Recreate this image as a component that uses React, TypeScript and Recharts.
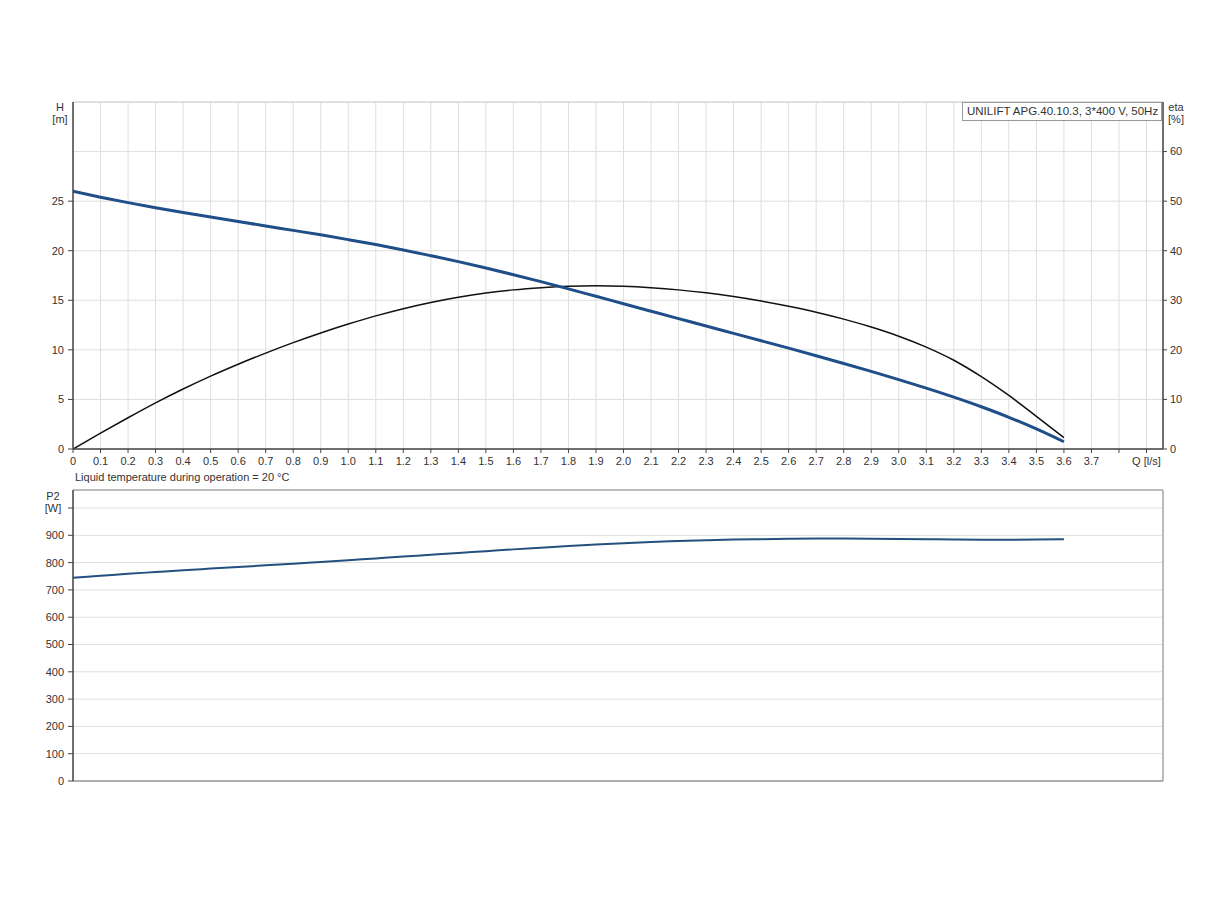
import React from "react";
import { LineChart, Line, XAxis, YAxis, CartesianGrid, ReferenceLine } from "recharts";

// flow Q [l/s] for every curve point
const flow = [
  0, 0.1, 0.2, 0.3, 0.4, 0.5, 0.6, 0.7, 0.8, 0.9, 1.0, 1.1, 1.2, 1.3, 1.4, 1.5, 1.6, 1.7, 1.8,
  1.9, 2.0, 2.1, 2.2, 2.3, 2.4, 2.5, 2.6, 2.7, 2.8, 2.9, 3.0, 3.1, 3.2, 3.3, 3.4, 3.5, 3.6,
];

// head H [m]
const head = [
  26.0, 25.4, 24.85, 24.33, 23.85, 23.4, 22.95, 22.5, 22.05, 21.6, 21.12, 20.62, 20.08, 19.5,
  18.9, 18.25, 17.58, 16.88, 16.15, 15.4, 14.65, 13.9, 13.15, 12.4, 11.66, 10.92, 10.17, 9.41,
  8.63, 7.83, 7.0, 6.14, 5.23, 4.26, 3.2, 2.02, 0.73,
];

// efficiency eta [%]
const efficiency = [
  0, 3.2, 6.3, 9.3, 12.1, 14.7, 17.1, 19.35, 21.45, 23.4, 25.2, 26.85, 28.3, 29.55, 30.6, 31.45,
  32.1, 32.55, 32.85, 32.95, 32.85, 32.55, 32.1, 31.5, 30.75, 29.85, 28.8, 27.6, 26.2, 24.6, 22.75,
  20.55, 17.9, 14.6, 10.8, 6.6, 2.3,
];

// shaft power P2 [W]
const power = [
  745, 752, 759, 765.5, 772, 778, 784, 790, 796, 802.5, 809, 815.5, 822, 829, 835.5, 842, 848.5,
  854.5, 860.5, 866, 871, 875.5, 879, 882, 884.5, 886, 887.3, 888, 888, 887.5, 886.5, 885.5, 884.5,
  884, 884, 884.5, 885.5,
];

const qTicks = [
  0, 0.1, 0.2, 0.3, 0.4, 0.5, 0.6, 0.7, 0.8, 0.9, 1.0, 1.1, 1.2, 1.3, 1.4, 1.5, 1.6, 1.7, 1.8, 1.9,
  2.0, 2.1, 2.2, 2.3, 2.4, 2.5, 2.6, 2.7, 2.8, 2.9, 3.0, 3.1, 3.2, 3.3, 3.4, 3.5, 3.6, 3.7, 3.8, 3.9,
];
const hTicks = [0, 5, 10, 15, 20, 25];
const etaTicks = [0, 10, 20, 30, 40, 50, 60];
const p2Ticks = [0, 100, 200, 300, 400, 500, 600, 700, 800, 900, 1000];

const qMax = 3.96;
const hMax = 35;
const etaMax = 70;
const p2Max = 1066;

const title = "UNILIFT APG.40.10.3, 3*400 V, 50Hz";
const note = "Liquid temperature during operation = 20 °C";

const rows = flow.map((q, i) => ({ q, h: head[i], eta: efficiency[i], p2: power[i] }));

const FONT = "'Liberation Sans', Arial, sans-serif";
const tickStyle = { fill: "#333", fontSize: 11, fontFamily: FONT };
const axisDark = { stroke: "#444", strokeWidth: 1.5 };
const gridColor = "#dedede";

const fmtQ = (v: number) => {
  if (v === 0) return "0";
  if (Math.abs(v - 3.8) < 1e-6) return "";
  if (Math.abs(v - 3.9) < 1e-6) return "Q [l/s]";
  return v.toFixed(1);
};

const unitStyle = (center: number, top: number, width = 30): React.CSSProperties => ({
  position: "absolute",
  left: center - width / 2,
  top,
  width,
  textAlign: "center",
  fontSize: 11,
  lineHeight: "12px",
  color: "#333",
  fontFamily: FONT,
});

export default function App() {
  return (
    <div
      style={{
        position: "absolute",
        left: 0,
        top: 0,
        width: 1224,
        height: 900,
        background: "#fff",
        fontFamily: FONT,
      }}
    >
      <div style={{ position: "absolute", left: 0, top: 0 }}>
        <LineChart width={1224} height={480} data={rows} margin={{ top: 102, right: 21, bottom: 6, left: 33 }}>
          <CartesianGrid yAxisId="eta" stroke={gridColor} strokeWidth={1} />
          <XAxis
            dataKey="q"
            type="number"
            domain={[0, qMax]}
            ticks={qTicks}
            interval={0}
            allowDataOverflow
            height={25}
            tick={tickStyle}
            tickFormatter={fmtQ}
            tickSize={4}
            tickMargin={4}
            axisLine={axisDark}
            tickLine={{ stroke: "#444" }}
          />
          <YAxis
            yAxisId="h"
            orientation="left"
            width={40}
            domain={[0, hMax]}
            ticks={hTicks}
            interval={0}
            tick={tickStyle}
            tickSize={5}
            tickMargin={4}
            axisLine={axisDark}
            tickLine={{ stroke: "#444" }}
          />
          <YAxis
            yAxisId="eta"
            orientation="right"
            width={40}
            domain={[0, etaMax]}
            ticks={etaTicks}
            interval={0}
            tick={tickStyle}
            tickSize={4}
            tickMargin={3}
            axisLine={axisDark}
            tickLine={{ stroke: "#444" }}
          />
          <ReferenceLine yAxisId="eta" y={etaMax} stroke="#d0d0d0" />
          <Line
            yAxisId="eta"
            dataKey="eta"
            type="monotone"
            stroke="#111"
            strokeWidth={1.5}
            dot={false}
            isAnimationActive={false}
          />
          <Line
            yAxisId="h"
            dataKey="h"
            type="monotone"
            stroke="#1f4e89"
            strokeWidth={3}
            dot={false}
            isAnimationActive={false}
          />
        </LineChart>
      </div>

      <div style={{ position: "absolute", left: 0, top: 480 }}>
        <LineChart width={1224} height={320} data={rows} margin={{ top: 10, right: 61, bottom: 18, left: 33 }}>
          <CartesianGrid stroke={gridColor} strokeWidth={1} />
          <XAxis
            dataKey="q"
            type="number"
            domain={[0, qMax]}
            ticks={qTicks}
            interval={0}
            allowDataOverflow
            height={1}
            tick={false}
            tickLine={false}
            axisLine={{ stroke: "#999", strokeWidth: 1.5 }}
          />
          <YAxis
            width={40}
            domain={[0, p2Max]}
            ticks={p2Ticks}
            interval={0}
            allowDataOverflow
            tick={tickStyle}
            tickFormatter={(v: number) => (v === 1000 ? "" : String(v))}
            tickSize={5}
            tickMargin={4}
            axisLine={axisDark}
            tickLine={{ stroke: "#444" }}
          />
          <ReferenceLine y={p2Max} stroke="#aaa" strokeWidth={1.5} />
          <ReferenceLine x={qMax} stroke="#aaa" strokeWidth={1.5} />
          <Line
            dataKey="p2"
            type="monotone"
            stroke="#24507f"
            strokeWidth={2}
            dot={false}
            isAnimationActive={false}
          />
        </LineChart>
      </div>

      <div style={unitStyle(60, 101)}>
        H
        <br />
        [m]
      </div>
      <div style={unitStyle(1176, 101)}>
        eta
        <br />
        [%]
      </div>
      <div style={unitStyle(53, 490)}>
        P2
        <br />
        [W]
      </div>

      <div
        style={{
          position: "absolute",
          left: 962,
          top: 102,
          width: 200,
          height: 19,
          border: "1px solid #999",
          background: "#fff",
          fontSize: 11.5,
          lineHeight: "17px",
          color: "#333",
          paddingLeft: 4,
          boxSizing: "border-box",
          whiteSpace: "nowrap",
        }}
      >
        {title}
      </div>

      <div
        style={{
          position: "absolute",
          left: 75,
          top: 470,
          fontSize: 11,
          lineHeight: "14px",
          color: "#333",
          whiteSpace: "nowrap",
        }}
      >
        {note}
      </div>
    </div>
  );
}
